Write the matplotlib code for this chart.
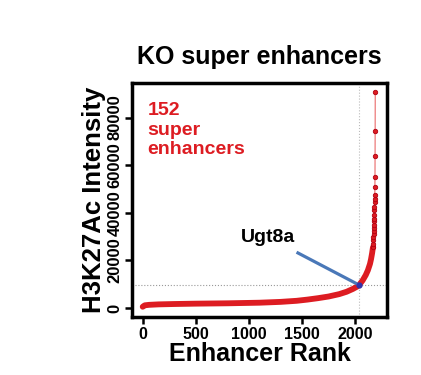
import numpy as np
import matplotlib
matplotlib.use('Agg')
import matplotlib.pyplot as plt

plt.rcParams['font.family'] = ['Liberation Sans', 'DejaVu Sans']
plt.rcParams['font.weight'] = 'bold'

# enhancer rank vs H3K27Ac signal
body_rank = [1, 20, 60, 150, 300, 500, 800, 1100, 1300, 1450, 1550, 1650,
             1750, 1850, 1920, 1980, 2020, 2040, 2070, 2100, 2120, 2140,
             2150, 2160, 2168]
body_signal = [500, 1100, 1300, 1500, 1650, 1800, 1950, 2200, 2550, 3000,
               3500, 4100, 4800, 5800, 6800, 8000, 9000, 9800, 11500, 13800,
               15800, 18500, 20500, 23000, 25500]
tail_rank = [2170, 2171, 2172, 2173, 2174, 2175, 2176, 2177, 2178, 2179,
             2180, 2181, 2182, 2183, 2184, 2185, 2186, 2187, 2188, 2189, 2190]
tail_signal = [25500, 27000, 28600, 29800, 31000, 32500, 33700, 35000,
               36600, 37500, 39200, 41000, 42400, 44500, 45600, 47600,
               50600, 54800, 63800, 74400, 90600]

cutoff_rank = 2038
cutoff_signal = 9500
n_super = 152
gene = 'Ugt8a'
gene_rank, gene_signal = 2035, 9700
label_from = (1462, 23100)

xticks = [0, 500, 1000, 1500, 2000]
yticks = [0, 20000, 40000, 60000, 80000]

red = '#dd1c22'

fig = plt.figure(figsize=(4.21, 3.75), dpi=100)
ax = fig.add_axes([0.3135, 0.1547, 0.6057, 0.624])

ax.axvline(cutoff_rank, color='#bbbbbb', lw=0.8, ls=':', zorder=1)
ax.axhline(cutoff_signal, color='#999999', lw=0.8, ls=':', zorder=1)

ax.plot(body_rank, body_signal, color=red, lw=4.2, solid_capstyle='round',
        zorder=2)
ax.plot(tail_rank, tail_signal, color='#ee8888', lw=1, zorder=2)
ax.plot(tail_rank, tail_signal, 'o', color=red, mec='#b00010', ms=3.2,
        mew=0.6, zorder=3)

ax.plot([label_from[0], gene_rank], [label_from[1], gene_signal],
        color='#4a78b8', lw=2.3, zorder=4)
ax.plot(gene_rank, gene_signal, 'o', color='#3333aa', ms=3.5, zorder=5)
ax.text(1180, 29500, gene, fontsize=14, fontweight='bold', ha='center',
        va='center')

ax.text(45, 86500, f'{n_super}\nsuper\nenhancers', color=red, fontsize=14,
        fontweight='bold', ha='left', va='top', linespacing=1.2)

ax.set_xlim(-100, 2300)
ax.set_ylim(-3800, 94500)
ax.set_xticks(xticks)
ax.set_yticks(yticks)
ax.set_xticklabels([str(t) for t in xticks], fontsize=11.5, fontweight='bold')
ax.set_yticklabels([str(t) for t in yticks], fontsize=12, fontweight='bold',
                   rotation=90, va='center')
ax.tick_params(axis='both', length=5, width=1.8, direction='out', pad=2)
for s in ax.spines.values():
    s.set_linewidth(2.5)

ax.set_xlabel('Enhancer Rank', fontsize=18, fontweight='bold', labelpad=0)
ax.set_ylabel('H3K27Ac Intensity', fontsize=18.5, fontweight='bold',
              labelpad=1)
ax.set_title('KO super enhancers', fontsize=18, fontweight='bold', pad=14)

fig.savefig('out.png', dpi=100)
